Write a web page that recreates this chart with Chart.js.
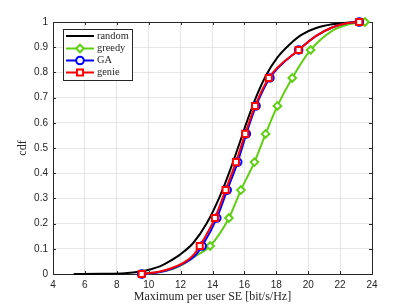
<!DOCTYPE html>
<html>
<head>
<meta charset="utf-8">
<script src="https://cdn.jsdelivr.net/npm/chart.js@4.4.0/dist/chart.umd.min.js"></script>
<style>
  html, body { margin: 0; padding: 0; background: #fff; }
  canvas { display: block; }
</style>
</head>
<body>
<canvas id="mycanvas" width="411" height="308"></canvas>
<script>
// tick labels
var xTicks = [4, 6, 8, 10, 12, 14, 16, 18, 20, 22, 24];
var yTicks = [0, 0.1, 0.2, 0.3, 0.4, 0.5, 0.6, 0.7, 0.8, 0.9, 1];

var seriesNames = ["random", "greedy", "GA", "genie"];

// random (no markers)
var randomX = [5.3, 7, 8.5, 9.5, 10.2, 10.7, 11.3, 11.96, 12.79, 13.63, 14.46, 15.19, 15.7, 16.13, 16.75, 17.37, 18.05, 18.85, 19.6, 20.5, 21.5, 22.4, 23.2];
var randomY = [0, 0.001, 0.003, 0.01, 0.02, 0.03, 0.05, 0.077, 0.123, 0.2, 0.308, 0.427, 0.52, 0.6, 0.705, 0.79, 0.858, 0.912, 0.95, 0.976, 0.991, 0.997, 1];

// greedy
var greedyX = [9.6, 10.7, 11.5, 12.2, 12.9, 13.85, 15.03, 15.78, 16.63, 17.33, 18.07, 19.0, 20.15, 21.5, 22.5, 23.56];
var greedyY = [0, 0.008, 0.02, 0.04, 0.07, 0.111, 0.222, 0.333, 0.444, 0.556, 0.667, 0.778, 0.889, 0.965, 0.99, 1];
var greedyMarks = [0, 5, 6, 7, 8, 9, 10, 11, 12, 15];

// GA
var gaX = [9.56, 10.7, 11.5, 12.2, 12.9, 13.35, 14.27, 14.92, 15.58, 16.12, 16.73, 17.6, 19.4, 20.5, 21.5, 22.4, 23.2];
var gaY = [0, 0.008, 0.022, 0.042, 0.072, 0.111, 0.222, 0.333, 0.444, 0.556, 0.667, 0.778, 0.889, 0.945, 0.978, 0.995, 1];
var gaMarks = [0, 5, 6, 7, 8, 9, 10, 11, 12, 16];

// genie
var genieX = [9.56, 10.7, 11.5, 12.2, 12.8, 13.2, 14.15, 14.82, 15.47, 16.05, 16.67, 17.53, 19.4, 20.5, 21.5, 22.4, 23.2];
var genieY = [0, 0.01, 0.025, 0.045, 0.075, 0.111, 0.222, 0.333, 0.444, 0.556, 0.667, 0.778, 0.889, 0.945, 0.978, 0.995, 1];
var genieMarks = [0, 5, 6, 7, 8, 9, 10, 11, 12, 16];

var colors = ["#000000", "#5ecf12", "#0000ff", "#ff0000"];
var styles = [null, "rectRot", "circle", "rect"];
var radii = [0, 3.8, 3.8, 4.3];
var txtColor = "#262626";

function pts(xs, ys) {
  var out = [];
  for (var i = 0; i < xs.length; i++) out.push({x: xs[i], y: ys[i]});
  return out;
}

function makeSet(k, xs, ys, marks) {
  return {
    label: seriesNames[k],
    data: pts(xs, ys),
    borderColor: colors[k],
    borderWidth: 2,
    pointStyle: styles[k] || "circle",
    pointBorderColor: colors[k],
    pointBackgroundColor: "#ffffff",
    pointBorderWidth: 2,
    pointRadius: function(c) { return marks && marks.indexOf(c.dataIndex) >= 0 ? radii[k] : 0; },
    cubicInterpolationMode: "monotone",
    fill: false,
    clip: false,
    order: 4 - k
  };
}

var boxPlugin = {
  id: "box",
  beforeDatasetsDraw: function(chart) {
    var a = chart.chartArea, ctx = chart.ctx;
    var xs = chart.scales.x, ys = chart.scales.y;
    ctx.save();
    ctx.strokeStyle = txtColor;
    ctx.lineWidth = 1;
    ctx.beginPath();
    xTicks.forEach(function(t) {
      var p = Math.round(xs.getPixelForValue(t)) + 0.5;
      ctx.moveTo(p, a.bottom); ctx.lineTo(p, a.bottom - 3);
      ctx.moveTo(p, a.top); ctx.lineTo(p, a.top + 3);
    });
    yTicks.forEach(function(t) {
      var p = Math.round(ys.getPixelForValue(t)) + 0.5;
      ctx.moveTo(a.left, p); ctx.lineTo(a.left + 3, p);
      ctx.moveTo(a.right, p); ctx.lineTo(a.right - 3, p);
    });
    ctx.stroke();
    ctx.strokeRect(Math.round(a.left) + 0.5, Math.round(a.top) + 0.5, Math.round(a.width), Math.round(a.height));
    ctx.restore();
  }
};

function marker(ctx, style, x, y, r) {
  ctx.beginPath();
  if (style === "circle") {
    ctx.arc(x, y, r, 0, Math.PI * 2);
  } else if (style === "rect") {
    var s = r * Math.SQRT1_2;
    ctx.rect(x - s, y - s, 2 * s, 2 * s);
  } else if (style === "rectRot") {
    ctx.moveTo(x - r, y); ctx.lineTo(x, y - r); ctx.lineTo(x + r, y); ctx.lineTo(x, y + r);
    ctx.closePath();
  }
  ctx.fillStyle = "#fff";
  ctx.fill();
  ctx.stroke();
}

var legendPlugin = {
  id: "boxLegend",
  afterDraw: function(chart) {
    var ctx = chart.ctx;
    ctx.save();
    ctx.fillStyle = "#fff";
    ctx.fillRect(63, 29, 69, 51);
    ctx.strokeStyle = txtColor;
    ctx.lineWidth = 1;
    ctx.strokeRect(63.5, 29.5, 69, 51);
    ctx.font = "10.4px 'Liberation Serif'";
    ctx.textBaseline = "middle";
    var rows = [36, 48.5, 60.5, 72.5];
    for (var k = 0; k < 4; k++) {
      var y = rows[k];
      ctx.strokeStyle = colors[k];
      ctx.lineWidth = 2;
      ctx.beginPath();
      ctx.moveTo(66, y); ctx.lineTo(94, y);
      ctx.stroke();
      if (styles[k]) marker(ctx, styles[k], 80, y, radii[k]);
      ctx.fillStyle = txtColor;
      ctx.fillText(seriesNames[k], 97, y);
    }
    ctx.restore();
  }
};

var ctx = document.getElementById("mycanvas");

var chart = new Chart(ctx, {
  type: "line",
  data: {
    datasets: [
      makeSet(0, randomX, randomY, null),
      makeSet(1, greedyX, greedyY, greedyMarks),
      makeSet(2, gaX, gaY, gaMarks),
      makeSet(3, genieX, genieY, genieMarks)
    ]
  },
  options: {
    responsive: false,
    animation: false,
    events: [],
    layout: { padding: { left: 0, top: 22, right: 39, bottom: 0 } },
    plugins: { legend: { display: false }, tooltip: { enabled: false } },
    scales: {
      x: {
        type: "linear",
        min: 4, max: 24,
        afterFit: function(s) { s.height = 34; },
        afterBuildTicks: function(s) { s.ticks = xTicks.map(function(v) { return {value: v}; }); },
        grid: { color: "#e6e6e6", drawTicks: false },
        border: { display: false },
        ticks: { padding: 5, color: txtColor, font: { family: "'Liberation Sans'", size: 10 }, maxRotation: 0,
                 callback: function(v) { return String(v); } },
        title: { display: true, text: "Maximum per user SE [bit/s/Hz]", color: txtColor,
                 font: { family: "'Liberation Serif'", size: 12 }, padding: { top: 0, bottom: 4 } }
      },
      y: {
        type: "linear",
        min: 0, max: 1,
        afterFit: function(s) { s.width = 53; },
        afterBuildTicks: function(s) { s.ticks = yTicks.map(function(v) { return {value: v}; }); },
        grid: { color: "#e6e6e6", drawTicks: false },
        border: { display: false },
        ticks: { padding: 5, color: txtColor, font: { family: "'Liberation Sans'", size: 10 },
                 callback: function(v) { return String(Math.round(v * 10) / 10); } },
        title: { display: true, text: "cdf", color: txtColor,
                 font: { family: "'Liberation Serif'", size: 12 }, padding: { top: 16, bottom: 0 } }
      }
    }
  },
  plugins: [boxPlugin, legendPlugin]
});
</script>
</body>
</html>
